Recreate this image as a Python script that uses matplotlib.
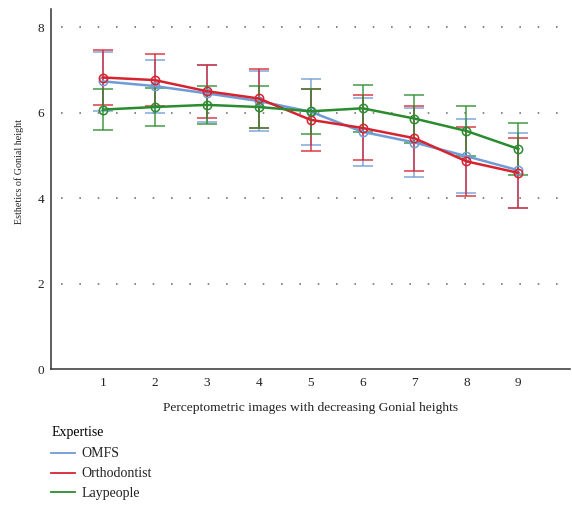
import numpy as np
import matplotlib.pyplot as plt
from matplotlib.lines import Line2D

plt.rcParams['font.family'] = ['Liberation Serif', 'DejaVu Serif']

images = [1, 2, 3, 4, 5, 6, 7, 8, 9]

omfs_mean = [6.73, 6.62, 6.45, 6.27, 6.02, 5.55, 5.30, 4.98, 4.65]
omfs_sd = [0.69, 0.62, 0.66, 0.70, 0.77, 0.80, 0.80, 0.86, 0.88]

ortho_mean = [6.82, 6.76, 6.50, 6.33, 5.83, 5.64, 5.40, 4.86, 4.59]
ortho_sd = [0.65, 0.60, 0.62, 0.68, 0.72, 0.76, 0.76, 0.81, 0.82]

lay_mean = [6.07, 6.13, 6.18, 6.13, 6.03, 6.10, 5.86, 5.57, 5.15]
lay_sd = [0.47, 0.44, 0.44, 0.48, 0.53, 0.55, 0.56, 0.59, 0.60]

series = [
    ('OMFS', omfs_mean, omfs_sd, '#6f9bd6'),
    ('Orthodontist', ortho_mean, ortho_sd, '#d7232f'),
    ('Laypeople', lay_mean, lay_sd, '#2a8c2e'),
]

fig = plt.figure(figsize=(5.72, 5.05), dpi=100)
ax = fig.add_axes([0.089, 0.269, 0.908, 0.713])

for name, mean, sd, color in series:
    ax.errorbar(images, mean, yerr=sd, fmt='none', ecolor=color, alpha=0.75,
                elinewidth=1.3, capsize=7, capthick=1.3, zorder=2)
    ax.plot(images, mean, color=color, linewidth=1.8, marker='o', markersize=6,
            markerfacecolor='none', markeredgewidth=1.1, zorder=3)

ax.set_xlim(0, 10)
ax.set_ylim(0, 8.42)
ax.set_xticks(images)
ax.set_yticks([0, 2, 4, 6, 8])
ax.tick_params(length=0, labelsize=9.5, colors='#222222')
ax.tick_params(axis='y', pad=5)
ax.tick_params(axis='x', pad=6)

# dotted horizontal guides
for y in [2, 4, 6, 8]:
    ax.axhline(y, xmin=0.02, xmax=1, color='#777777', linestyle=(0, (1, 10)),
               linewidth=1.2, zorder=1)

for side in ['top', 'right']:
    ax.spines[side].set_visible(False)
for side in ['left', 'bottom']:
    ax.spines[side].set_linewidth(1.1)
    ax.spines[side].set_color('#333333')

ax.set_xlabel('Perceptometric images with decreasing Gonial heights',
              fontsize=9.7, labelpad=9, color='#222222')
ax.set_ylabel('Esthetics of Gonial height', fontsize=7.2, color='#222222')
ax.yaxis.set_label_coords(-0.052, 0.55)

handles = [Line2D([], [], color=c, linewidth=1.3) for _, _, _, c in series]
labels = [s[0] for s in series]
leg = fig.legend(handles, labels, title='Expertise', loc='upper left',
                 bbox_to_anchor=(0.068, 0.181), frameon=False, fontsize=10,
                 title_fontsize=10, handlelength=1.7, handletextpad=0.45,
                 labelspacing=0.5, alignment='left')
leg._legend_box.sep = 6
for t in leg.get_texts():
    t.set_color('#222222')

fig.savefig('out.png', dpi=100)
